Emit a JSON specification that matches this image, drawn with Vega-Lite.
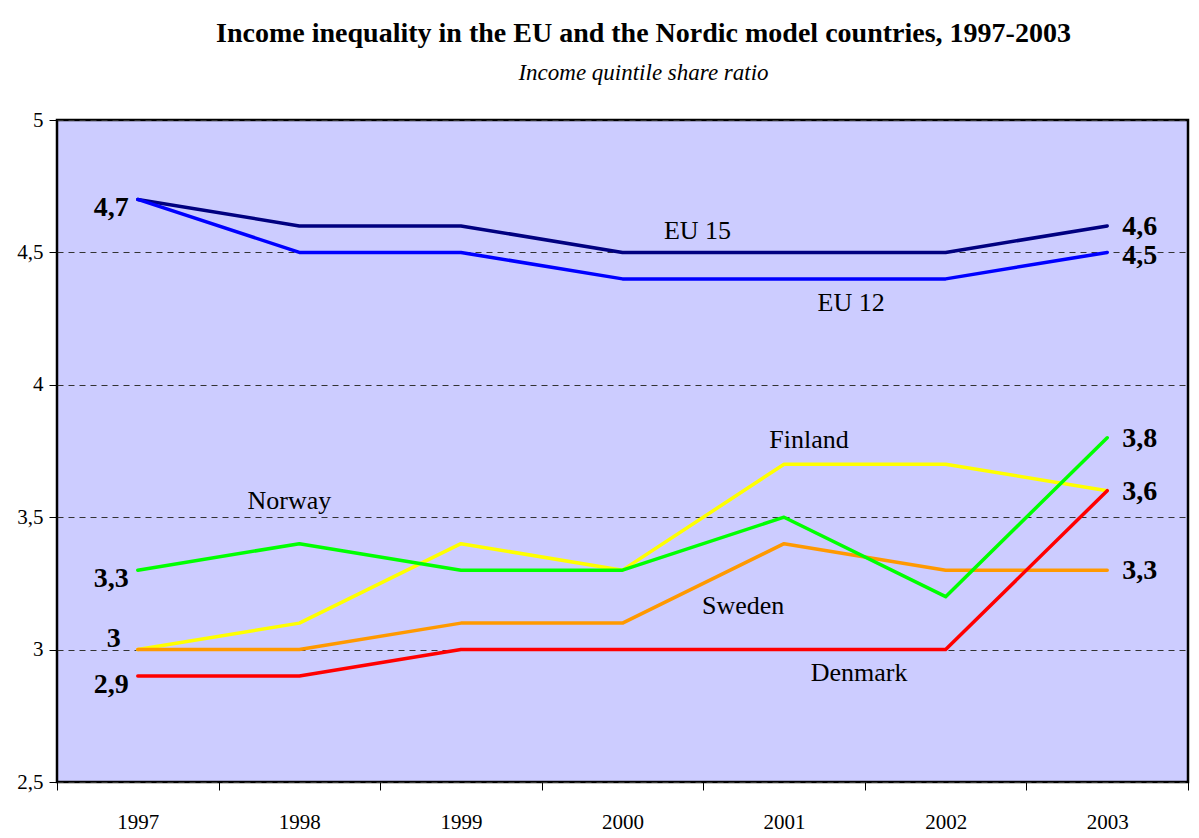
{
  "$schema": "https://vega.github.io/schema/vega-lite/v6.json",
  "width": 1131,
  "height": 662,
  "autosize": {"type": "none"},
  "padding": {"left": 57, "top": 120, "right": 11, "bottom": 56},
  "background": "white",
  "title": {
    "text": "Income inequality in the EU and the Nordic model countries, 1997-2003",
    "subtitle": "Income quintile share ratio",
    "anchor": "middle",
    "dx": 21,
    "offset": 24,
    "font": "Liberation Serif",
    "fontSize": 28,
    "fontWeight": "bold",
    "color": "black",
    "subtitleFont": "Liberation Serif",
    "subtitleFontSize": 23,
    "subtitleFontStyle": "italic",
    "subtitleColor": "black",
    "subtitlePadding": 14
  },
  "config": {
    "locale": {"number": {"decimal": ",", "thousands": ".", "grouping": [3], "currency": ["", " €"]}},
    "view": {"fill": "#CCCCFF", "stroke": "black", "strokeWidth": 2.5},
    "font": "Liberation Serif"
  },
  "datasets": {
    "series": [
      {"series": "Finland", "year": "1997", "value": 3.0},
      {"series": "Finland", "year": "1998", "value": 3.1},
      {"series": "Finland", "year": "1999", "value": 3.4},
      {"series": "Finland", "year": "2000", "value": 3.3},
      {"series": "Finland", "year": "2001", "value": 3.7},
      {"series": "Finland", "year": "2002", "value": 3.7},
      {"series": "Finland", "year": "2003", "value": 3.6},
      {"series": "Sweden", "year": "1997", "value": 3.0},
      {"series": "Sweden", "year": "1998", "value": 3.0},
      {"series": "Sweden", "year": "1999", "value": 3.1},
      {"series": "Sweden", "year": "2000", "value": 3.1},
      {"series": "Sweden", "year": "2001", "value": 3.4},
      {"series": "Sweden", "year": "2002", "value": 3.3},
      {"series": "Sweden", "year": "2003", "value": 3.3},
      {"series": "Norway", "year": "1997", "value": 3.3},
      {"series": "Norway", "year": "1998", "value": 3.4},
      {"series": "Norway", "year": "1999", "value": 3.3},
      {"series": "Norway", "year": "2000", "value": 3.3},
      {"series": "Norway", "year": "2001", "value": 3.5},
      {"series": "Norway", "year": "2002", "value": 3.2},
      {"series": "Norway", "year": "2003", "value": 3.8},
      {"series": "Denmark", "year": "1997", "value": 2.9},
      {"series": "Denmark", "year": "1998", "value": 2.9},
      {"series": "Denmark", "year": "1999", "value": 3.0},
      {"series": "Denmark", "year": "2000", "value": 3.0},
      {"series": "Denmark", "year": "2001", "value": 3.0},
      {"series": "Denmark", "year": "2002", "value": 3.0},
      {"series": "Denmark", "year": "2003", "value": 3.6},
      {"series": "EU 15", "year": "1997", "value": 4.7},
      {"series": "EU 15", "year": "1998", "value": 4.6},
      {"series": "EU 15", "year": "1999", "value": 4.6},
      {"series": "EU 15", "year": "2000", "value": 4.5},
      {"series": "EU 15", "year": "2001", "value": 4.5},
      {"series": "EU 15", "year": "2002", "value": 4.5},
      {"series": "EU 15", "year": "2003", "value": 4.6},
      {"series": "EU 12", "year": "1997", "value": 4.7},
      {"series": "EU 12", "year": "1998", "value": 4.5},
      {"series": "EU 12", "year": "1999", "value": 4.5},
      {"series": "EU 12", "year": "2000", "value": 4.4},
      {"series": "EU 12", "year": "2001", "value": 4.4},
      {"series": "EU 12", "year": "2002", "value": 4.4},
      {"series": "EU 12", "year": "2003", "value": 4.5}
    ],
    "startLabels": [
      {"year": "1997", "value": 4.7},
      {"year": "1997", "value": 3.3},
      {"year": "1997", "value": 2.9}
    ],
    "startLabelAbove": [
      {"year": "1997", "value": 3.0}
    ],
    "endLabelsUpper": [
      {"year": "2003", "value": 4.6},
      {"year": "2003", "value": 3.8},
      {"year": "2003", "value": 3.6},
      {"year": "2003", "value": 3.3}
    ],
    "endLabelsLower": [
      {"year": "2003", "value": 4.5}
    ],
    "names": [
      {"name": "EU 15", "year": "2000", "value": 4.58},
      {"name": "EU 12", "year": "2001", "value": 4.31},
      {"name": "Finland", "year": "2001", "value": 3.79},
      {"name": "Norway", "year": "1998", "value": 3.56},
      {"name": "Sweden", "year": "2001", "value": 3.165},
      {"name": "Denmark", "year": "2001", "value": 2.91}
    ]
  },
  "encoding": {
    "x": {
      "field": "year",
      "type": "ordinal",
      "scale": {"type": "band", "paddingInner": 0, "paddingOuter": 0, "domain": ["1997", "1998", "1999", "2000", "2001", "2002", "2003"]},
      "axis": {
        "title": null,
        "tickBand": "extent",
        "labelAngle": 0,
        "labelFont": "Liberation Serif",
        "labelFontSize": 21,
        "labelColor": "black",
        "labelPadding": 21,
        "tickColor": "black",
        "tickSize": 8,
        "tickWidth": 1,
        "domain": false,
        "grid": false
      }
    },
    "y": {
      "field": "value",
      "type": "quantitative",
      "scale": {"domain": [2.5, 5], "nice": false, "zero": false},
      "axis": {
        "title": null,
        "values": [2.5, 3, 3.5, 4, 4.5, 5],
        "format": ".1~f",
        "labelFont": "Liberation Serif",
        "labelFontSize": 21,
        "labelColor": "black",
        "labelPadding": 6,
        "tickColor": "black",
        "tickSize": 8,
        "tickWidth": 1,
        "domain": false,
        "grid": true,
        "gridColor": "#333333",
        "gridWidth": 1,
        "gridDash": [6, 5]
      }
    }
  },
  "layer": [
    {
      "data": {"name": "series"},
      "mark": {"type": "line", "strokeWidth": 3.5, "strokeCap": "round", "strokeJoin": "round"},
      "encoding": {
        "color": {
          "field": "series",
          "type": "nominal",
          "scale": {
            "domain": ["Finland", "Sweden", "Norway", "Denmark", "EU 15", "EU 12"],
            "range": ["#FFFF00", "#FF9900", "#00FF00", "#FF0000", "#000080", "#0000FF"]
          },
          "legend": null
        }
      }
    },
    {
      "data": {"name": "startLabels"},
      "mark": {"type": "text", "align": "right", "baseline": "middle", "dx": -9, "dy": 9, "font": "Liberation Serif", "fontSize": 28, "fontWeight": "bold", "color": "black"},
      "encoding": {"text": {"field": "value", "type": "quantitative", "format": ".1~f"}}
    },
    {
      "data": {"name": "startLabelAbove"},
      "mark": {"type": "text", "align": "right", "baseline": "middle", "dx": -17, "dy": -11, "font": "Liberation Serif", "fontSize": 28, "fontWeight": "bold", "color": "black"},
      "encoding": {"text": {"field": "value", "type": "quantitative", "format": ".1~f"}}
    },
    {
      "data": {"name": "endLabelsUpper"},
      "mark": {"type": "text", "align": "left", "baseline": "middle", "dx": 15, "dy": 1, "font": "Liberation Serif", "fontSize": 28, "fontWeight": "bold", "color": "black"},
      "encoding": {"text": {"field": "value", "type": "quantitative", "format": ".1~f"}}
    },
    {
      "data": {"name": "endLabelsLower"},
      "mark": {"type": "text", "align": "left", "baseline": "middle", "dx": 15, "dy": 4, "font": "Liberation Serif", "fontSize": 28, "fontWeight": "bold", "color": "black"},
      "encoding": {"text": {"field": "value", "type": "quantitative", "format": ".1~f"}}
    },
    {
      "data": {"name": "names"},
      "transform": [{"filter": "datum.name === 'EU 15'"}],
      "mark": {"type": "text", "align": "center", "baseline": "middle", "dx": 75, "font": "Liberation Serif", "fontSize": 26, "color": "black"},
      "encoding": {"text": {"field": "name", "type": "nominal"}}
    },
    {
      "data": {"name": "names"},
      "transform": [{"filter": "datum.name === 'EU 12'"}],
      "mark": {"type": "text", "align": "center", "baseline": "middle", "dx": 67, "font": "Liberation Serif", "fontSize": 26, "color": "black"},
      "encoding": {"text": {"field": "name", "type": "nominal"}}
    },
    {
      "data": {"name": "names"},
      "transform": [{"filter": "datum.name === 'Finland'"}],
      "mark": {"type": "text", "align": "center", "baseline": "middle", "dx": 25, "font": "Liberation Serif", "fontSize": 26, "color": "black"},
      "encoding": {"text": {"field": "name", "type": "nominal"}}
    },
    {
      "data": {"name": "names"},
      "transform": [{"filter": "datum.name === 'Norway'"}],
      "mark": {"type": "text", "align": "center", "baseline": "middle", "dx": -10, "font": "Liberation Serif", "fontSize": 26, "color": "black"},
      "encoding": {"text": {"field": "name", "type": "nominal"}}
    },
    {
      "data": {"name": "names"},
      "transform": [{"filter": "datum.name === 'Sweden'"}],
      "mark": {"type": "text", "align": "center", "baseline": "middle", "dx": -41, "font": "Liberation Serif", "fontSize": 26, "color": "black"},
      "encoding": {"text": {"field": "name", "type": "nominal"}}
    },
    {
      "data": {"name": "names"},
      "transform": [{"filter": "datum.name === 'Denmark'"}],
      "mark": {"type": "text", "align": "center", "baseline": "middle", "dx": 75, "font": "Liberation Serif", "fontSize": 26, "color": "black"},
      "encoding": {"text": {"field": "name", "type": "nominal"}}
    }
  ]
}
